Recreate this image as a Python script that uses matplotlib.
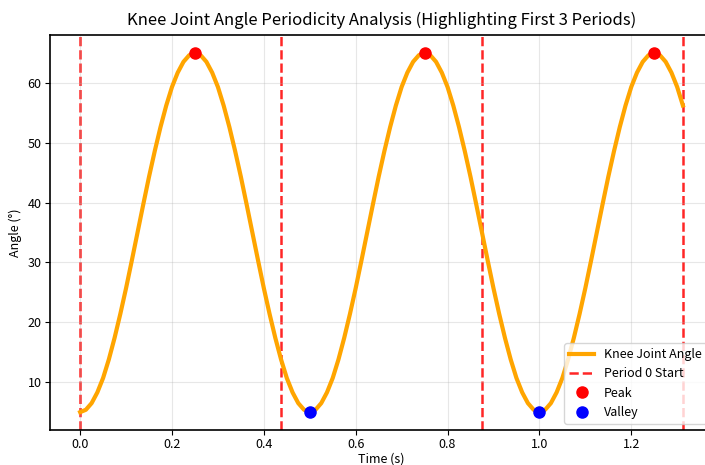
import numpy as np
import matplotlib.pyplot as plt

plt.rcParams['font.family'] = ['Noto Sans CJK SC', 'DejaVu Sans']
plt.rcParams['axes.unicode_minus'] = False

# knee angle sampled every 0.0125 s
angle = [
    5.0, 5.4, 6.5, 8.3, 10.7, 13.8, 17.4, 21.4, 25.7, 30.3,
    35.0, 39.7, 44.3, 48.6, 52.6, 56.2, 59.3, 61.7, 63.5, 64.6,
    65.0, 64.6, 63.5, 61.7, 59.3, 56.2, 52.6, 48.6, 44.3, 39.7,
    35.0, 30.3, 25.7, 21.4, 17.4, 13.8, 10.7, 8.3, 6.5, 5.4,
    5.0, 5.4, 6.5, 8.3, 10.7, 13.8, 17.4, 21.4, 25.7, 30.3,
    35.0, 39.7, 44.3, 48.6, 52.6, 56.2, 59.3, 61.7, 63.5, 64.6,
    65.0, 64.6, 63.5, 61.7, 59.3, 56.2, 52.6, 48.6, 44.3, 39.7,
    35.0, 30.3, 25.7, 21.4, 17.4, 13.8, 10.7, 8.3, 6.5, 5.4,
    5.0, 5.4, 6.5, 8.3, 10.7, 13.8, 17.4, 21.4, 25.7, 30.3,
    35.0, 39.7, 44.3, 48.6, 52.6, 56.2, 59.3, 61.7, 63.5, 64.6,
    65.0, 64.6, 63.5, 61.7, 59.3, 56.2,
]
t = np.linspace(0, 1.3125, len(angle))

period_starts = [0.0, 0.4375, 0.875, 1.3125]
peak_t = [0.25, 0.75, 1.25]
peak_v = [65, 65, 65]
valley_t = [0.5, 1.0]
valley_v = [5, 5]

fig = plt.figure(figsize=(7.05, 4.65), dpi=100)
ax = fig.add_axes([50/705, 0.075, 663/705, 0.85])

ax.plot(t, angle, color='orange', lw=3, label='Knee Joint Angle', zorder=2)
for i, ps in enumerate(period_starts):
    ax.axvline(ps, color='red', ls='--', lw=1.8, alpha=0.85,
               label='Period 0 Start' if i == 0 else None, zorder=1)
ax.plot(peak_t, peak_v, 'o', color='red', ms=8, label='Peak', zorder=3)
ax.plot(valley_t, valley_v, 'o', color='blue', ms=8, label='Valley', zorder=3)

ax.set_xlim(-0.0656, 1.378)
ax.set_ylim(2, 68)
ax.set_title('Knee Joint Angle Periodicity Analysis (Highlighting First 3 Periods)',
             fontsize=12, pad=7)
ax.set_xlabel('Time (s)', fontsize=9, labelpad=1)
ax.set_ylabel('Angle (°)', fontsize=9)
ax.tick_params(labelsize=9, pad=2.5)
ax.grid(True, alpha=0.3)
for s in ax.spines.values():
    s.set_linewidth(1.2)
ax.legend(loc='lower right', fontsize=9)

fig.savefig('out.png', dpi=100)
